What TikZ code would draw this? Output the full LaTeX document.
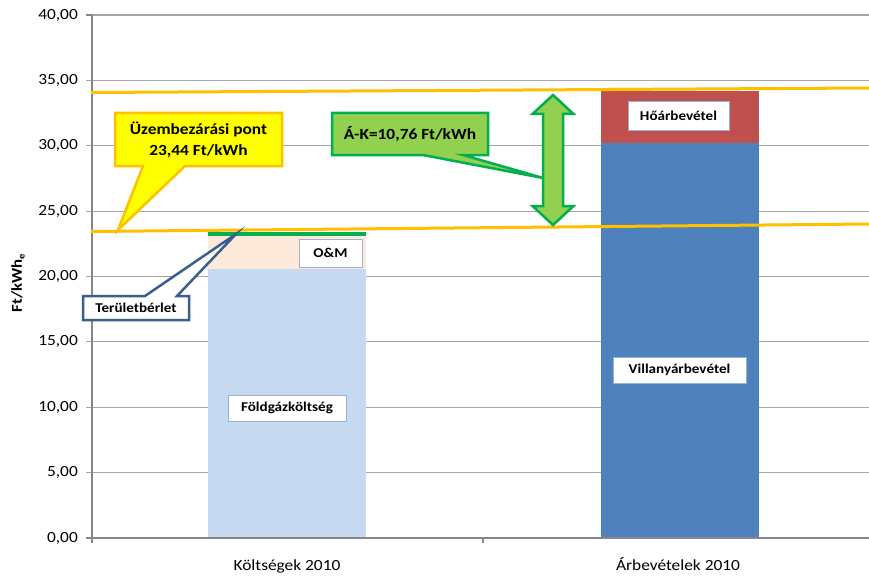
\documentclass[tikz,border=0pt]{standalone}
\usepackage{fontspec}
\setmainfont{Carlito}
\usepackage{graphicx}
\definecolor{gridgray}{HTML}{A6A6A6}
\definecolor{axisgray}{HTML}{868686}
\definecolor{gasblue}{HTML}{C6D9F1}
\definecolor{ompeach}{HTML}{FDE9D9}
\definecolor{rentgreen}{HTML}{00B050}
\definecolor{elblue}{HTML}{4F81BD}
\definecolor{heatred}{HTML}{C0504D}
\definecolor{lineorange}{HTML}{FFC000}
\definecolor{lblblue}{HTML}{95B3D7}
\definecolor{darkblue}{HTML}{3A5F8E}
\definecolor{callyellow}{HTML}{FFFF00}
\definecolor{callgreen}{HTML}{92D050}
\definecolor{callgreenborder}{HTML}{00B050}
\newcommand\hs[1]{\scalebox{1.12}[1]{#1}}
\begin{document}
\begin{tikzpicture}[x=1pt,y=-1pt,
  gridline/.style={draw=gridgray,line width=1.1pt},
  axisline/.style={draw=axisgray,line width=1.1pt},
  ticklab/.style={anchor=east,inner sep=0pt,font=\fontsize{15.5}{18}\selectfont},
  catlab/.style={anchor=base,inner sep=0pt,font=\fontsize{15.5}{18}\selectfont},
  seglab/.style={draw=lblblue,fill=white,line width=1pt,inner sep=0pt,font=\bfseries\fontsize{13.5}{15}\selectfont},
  orangeline/.style={draw=lineorange,line width=3pt},
  yellowcall/.style={draw=lineorange,fill=callyellow,line width=2.5pt,line join=miter},
  greencall/.style={draw=callgreenborder,fill=callgreen,line width=2.5pt,line join=miter},
  bluecall/.style={draw=darkblue,fill=white,line width=2.5pt,line join=miter},
  calltext/.style={inner sep=0pt,align=center,font=\bfseries\fontsize{15.5}{21}\selectfont},
  ]
\useasboundingbox (0,0) rectangle (869,575);
\fill[white] (0,0) rectangle (869,575);

% grid lines and tick labels
\foreach \k/\t in {0/{0,00},1/{5,00},2/{10,00},3/{15,00},4/{20,00},5/{25,00},6/{30,00},7/{35,00},8/{40,00}}{
  \pgfmathsetmacro\yy{538-65.375*\k}
  \ifnum\k>0
    \draw[gridline] (86,\yy) -- (869,\yy);
  \fi
  \node[ticklab] (tick\k) at (78,\yy) {\hs{\t}};
}

% bars
\fill[gasblue] (208,538) rectangle (366,269);
\fill[ompeach] (208,269) rectangle (366,236);
\fill[rentgreen] (208,236) rectangle (366,231.5);
\fill[elblue] (601,538) rectangle (759,143);
\fill[heatred] (601,143) rectangle (759,91);

% axes
\draw[axisline] (86,538) -- (869,538);
\draw[axisline] (92,15) -- (92,543);
\draw[axisline] (483,538) -- (483,543);
\draw[axisline] (86,15) -- (92,15);

% segment labels
\node[seglab,minimum width=63pt,minimum height=28pt] (om) at (330.5,253) {\hs{O\&M}};
\node[seglab,minimum width=101pt,minimum height=28pt] (heat) at (678.5,116) {\hs{Hőárbevétel}};
\node[seglab,minimum width=133pt,minimum height=26pt] (elec) at (679.5,370) {\hs{Villanyárbevétel}};
\node[seglab,minimum width=118pt,minimum height=26pt] (gas) at (287,408) {\hs{Földgázköltség}};

% category labels
\node[catlab] (cat1) at (287,570) {\hs{Költségek 2010}};
\node[catlab] (cat2) at (678,570) {\hs{Árbevételek 2010}};

% y axis label
\node[inner sep=0pt,rotate=90,font=\bfseries\fontsize{15}{17}\selectfont] (ylab) at (18,283)
  {\hs{Ft/kWh\raisebox{-0.35ex}{\fontsize{9.5}{10}\selectfont e}}};

% orange lines
\coordinate (loL) at (91,231.5);
\coordinate (loR) at (869,224);
\coordinate (hiL) at (91,92.5);
\coordinate (hiR) at (869,88);
\draw[orangeline] (loL) -- (loR);
\draw[orangeline] (hiL) -- (hiR);

% yellow callout
\draw[yellowcall] (115,113) -- (282,113) -- (282,166) -- (185,166) -- (118,230) -- (143,166) -- (115,166) -- cycle;
\node[calltext] (stop) at (198.5,139.5) {\hs{Üzembezárási pont}\\ \hs{23,44 Ft/kWh}};

% green callout
\draw[greencall] (332,113) -- (488,113) -- (488,155) -- (463,155) -- (543,178) -- (423,155) -- (332,155) -- cycle;
\node[calltext] (diff) at (410,134) {\hs{Á-K=10,76 Ft/kWh}};

% double arrow
\draw[greencall] (553,95) -- (573.5,114) -- (563,114) -- (563,206) -- (573.5,206) -- (553,225)
  -- (532.5,206) -- (543,206) -- (543,114) -- (532.5,114) -- cycle;

% Területbérlet callout
\draw[bluecall] (83,296) -- (145,296) -- (236,234) -- (177,296) -- (189,296) -- (189,320) -- (83,320) -- cycle;
\node[inner sep=0pt,font=\bfseries\fontsize{13.5}{15}\selectfont] (rent) at (136,308) {\hs{Területbérlet}};
\end{tikzpicture}
\end{document}
